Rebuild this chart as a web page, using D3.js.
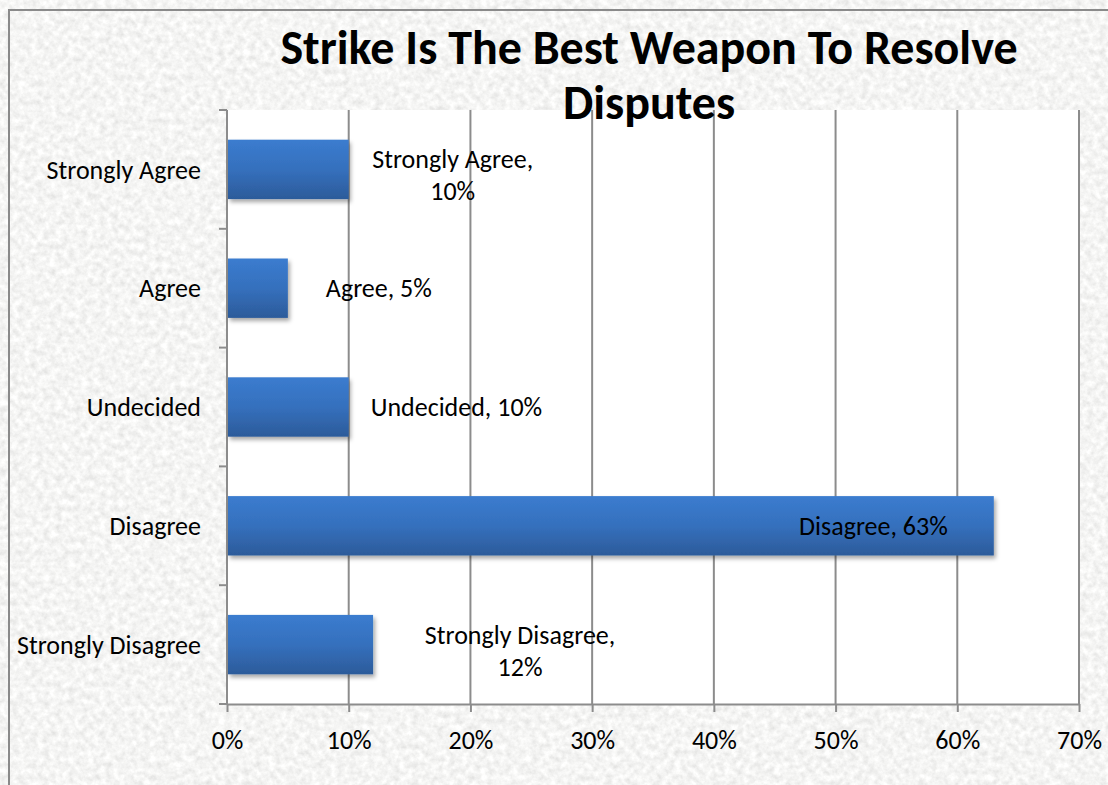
<!DOCTYPE html>
<html>
<head>
<meta charset="utf-8">
<script src="https://cdn.jsdelivr.net/npm/d3@7/dist/d3.min.js"></script>
<style>
  html, body { margin: 0; padding: 0; background: #ffffff; }
  svg { display: block; }
  text { font-family: Carlito, Calibri, Lato, "Open Sans", sans-serif; fill: #000; }
</style>
</head>
<body>
<svg id="chart" width="1108" height="785"></svg>
<script>
// Survey responses: "Strike is the best weapon to resolve disputes"
const categories = ["Strongly Agree", "Agree", "Undecided", "Disagree", "Strongly Disagree"];
const shares = [0.10, 0.05, 0.10, 0.63, 0.12];
const tickValues = [0, 0.1, 0.2, 0.3, 0.4, 0.5, 0.6, 0.7];
const titleLines = ["Strike Is The Best Weapon To Resolve", "Disputes"];

const W = 1108, H = 785;
const plot = { left: 227, right: 1079, top: 110, bottom: 704 };
const fontSize = 26;

// Data-label placement (outside end, Excel style), per category
const labelLayout = {
  "Strongly Agree":    { mode: "wrap",   dx: 104 },
  "Agree":             { mode: "single", dx: 38 },
  "Undecided":         { mode: "single", dx: 22 },
  "Disagree":          { mode: "inside", dx: -46 },
  "Strongly Disagree": { mode: "wrap",   dx: 147 }
};

const svg = d3.select("#chart");
const defs = svg.append("defs");

// Granite-like paper texture
const tex = defs.append("filter").attr("id", "granite")
  .attr("x", 0).attr("y", 0).attr("width", "100%").attr("height", "100%")
  .attr("filterUnits", "userSpaceOnUse");
tex.append("feTurbulence").attr("type", "fractalNoise")
  .attr("baseFrequency", 0.16).attr("numOctaves", 4).attr("seed", 7).attr("result", "n");
tex.append("feColorMatrix").attr("in", "n").attr("type", "matrix")
  .attr("values", [
    0.36, 0, 0, 0, 0.73,
    0.36, 0, 0, 0, 0.73,
    0.36, 0, 0, 0, 0.72,
    0, 0, 0, 0, 1
  ].join(" "));

// Bar fill gradient and soft shadow
const grad = defs.append("linearGradient").attr("id", "barGrad")
  .attr("x1", 0).attr("y1", 0).attr("x2", 0).attr("y2", 1);
grad.append("stop").attr("offset", "0%").attr("stop-color", "#3b7ccf");
grad.append("stop").attr("offset", "50%").attr("stop-color", "#3570bd");
grad.append("stop").attr("offset", "100%").attr("stop-color", "#2c5b9a");

const shadow = defs.append("filter").attr("id", "barShadow")
  .attr("x", "-10%").attr("y", "-20%").attr("width", "130%").attr("height", "160%");
shadow.append("feDropShadow").attr("dx", 2).attr("dy", 3)
  .attr("stdDeviation", 2.2).attr("flood-color", "#000").attr("flood-opacity", 0.35);

// Chart area background with frame
svg.append("rect").attr("x", 9).attr("y", 10).attr("width", W - 9).attr("height", H - 10)
  .attr("filter", "url(#granite)").attr("fill", "#e8e8e6");
svg.append("path")
  .attr("d", `M9,${H} V10 H${W}`)
  .attr("fill", "none").attr("stroke", "#8a8a8a").attr("stroke-width", 2);

// Scales
const x = d3.scaleLinear().domain([0, 0.7]).range([plot.left, plot.right]);
const y = d3.scaleBand().domain(categories).range([plot.top, plot.bottom])
  .paddingInner(0.5).paddingOuter(0.25);

// Plot area
svg.append("rect")
  .attr("x", plot.left).attr("y", plot.top)
  .attr("width", plot.right - plot.left).attr("height", plot.bottom - plot.top)
  .attr("fill", "#ffffff");

// Vertical gridlines
svg.append("g").selectAll("line")
  .data(tickValues.slice(1))
  .join("line")
  .attr("x1", d => x(d)).attr("x2", d => x(d))
  .attr("y1", plot.top).attr("y2", plot.bottom)
  .attr("stroke", "#8c8c8c").attr("stroke-width", 2);

// X axis
const xAxis = svg.append("g")
  .attr("transform", `translate(0,${plot.bottom})`)
  .call(d3.axisBottom(x).tickValues(tickValues).tickFormat(d3.format(".0%"))
    .tickSizeInner(8).tickSizeOuter(0).tickPadding(19));
xAxis.select(".domain").attr("stroke", "#8c8c8c").attr("stroke-width", 2);
xAxis.selectAll(".tick line").attr("stroke", "#8c8c8c").attr("stroke-width", 2);
xAxis.selectAll(".tick text").style("font-size", fontSize + "px").attr("fill", "#000");

// Y axis: ticks at category boundaries, labels centred on bands
const yAxisG = svg.append("g").attr("transform", `translate(${plot.left},0)`);
yAxisG.append("line")
  .attr("x1", 0).attr("x2", 0).attr("y1", plot.top).attr("y2", plot.bottom)
  .attr("stroke", "#8c8c8c").attr("stroke-width", 2);
const boundaries = categories.map(c => y(c) - y.step() * y.paddingInner() / 2)
  .concat([plot.bottom]);
yAxisG.selectAll("line.tick")
  .data(boundaries)
  .join("line").attr("class", "tick")
  .attr("x1", -8).attr("x2", 0).attr("y1", d => d).attr("y2", d => d)
  .attr("stroke", "#8c8c8c").attr("stroke-width", 2);
yAxisG.selectAll("text")
  .data(categories)
  .join("text")
  .attr("x", -26)
  .attr("y", d => y(d) + y.bandwidth() / 2)
  .attr("dy", "0.35em")
  .attr("text-anchor", "end")
  .style("font-size", fontSize + "px")
  .text(d => d);

// Bars
const rows = categories.map((c, i) => ({ category: c, value: shares[i] }));
svg.append("g").selectAll("rect")
  .data(rows)
  .join("rect")
  .attr("x", x(0) + 1)
  .attr("y", d => y(d.category))
  .attr("width", d => x(d.value) - x(0) - 1)
  .attr("height", y.bandwidth())
  .attr("fill", "url(#barGrad)")
  .attr("filter", "url(#barShadow)");

// Data labels: "Category, NN%"
const pct = d3.format(".0%");
const labels = svg.append("g").style("font-size", fontSize + "px");
rows.forEach(d => {
  const L = labelLayout[d.category];
  const cy = y(d.category) + y.bandwidth() / 2;
  const endX = x(d.value);
  if (L.mode === "wrap") {
    const t = labels.append("text").attr("text-anchor", "middle");
    t.append("tspan").attr("x", endX + L.dx).attr("y", cy - 1).text(d.category + ",");
    t.append("tspan").attr("x", endX + L.dx).attr("y", cy + 31).text(pct(d.value));
  } else if (L.mode === "inside") {
    labels.append("text").attr("text-anchor", "end")
      .attr("x", endX + L.dx).attr("y", cy).attr("dy", "0.35em")
      .text(`${d.category}, ${pct(d.value)}`);
  } else {
    labels.append("text").attr("text-anchor", "start")
      .attr("x", endX + L.dx).attr("y", cy).attr("dy", "0.35em")
      .text(`${d.category}, ${pct(d.value)}`);
  }
});

// Title
const title = svg.append("text")
  .attr("text-anchor", "middle")
  .style("font-size", "48px").style("font-weight", "bold");
titleLines.forEach((line, i) => {
  title.append("tspan").attr("x", 649).attr("y", 64 + i * 55).text(line);
});
</script>
</body>
</html>
